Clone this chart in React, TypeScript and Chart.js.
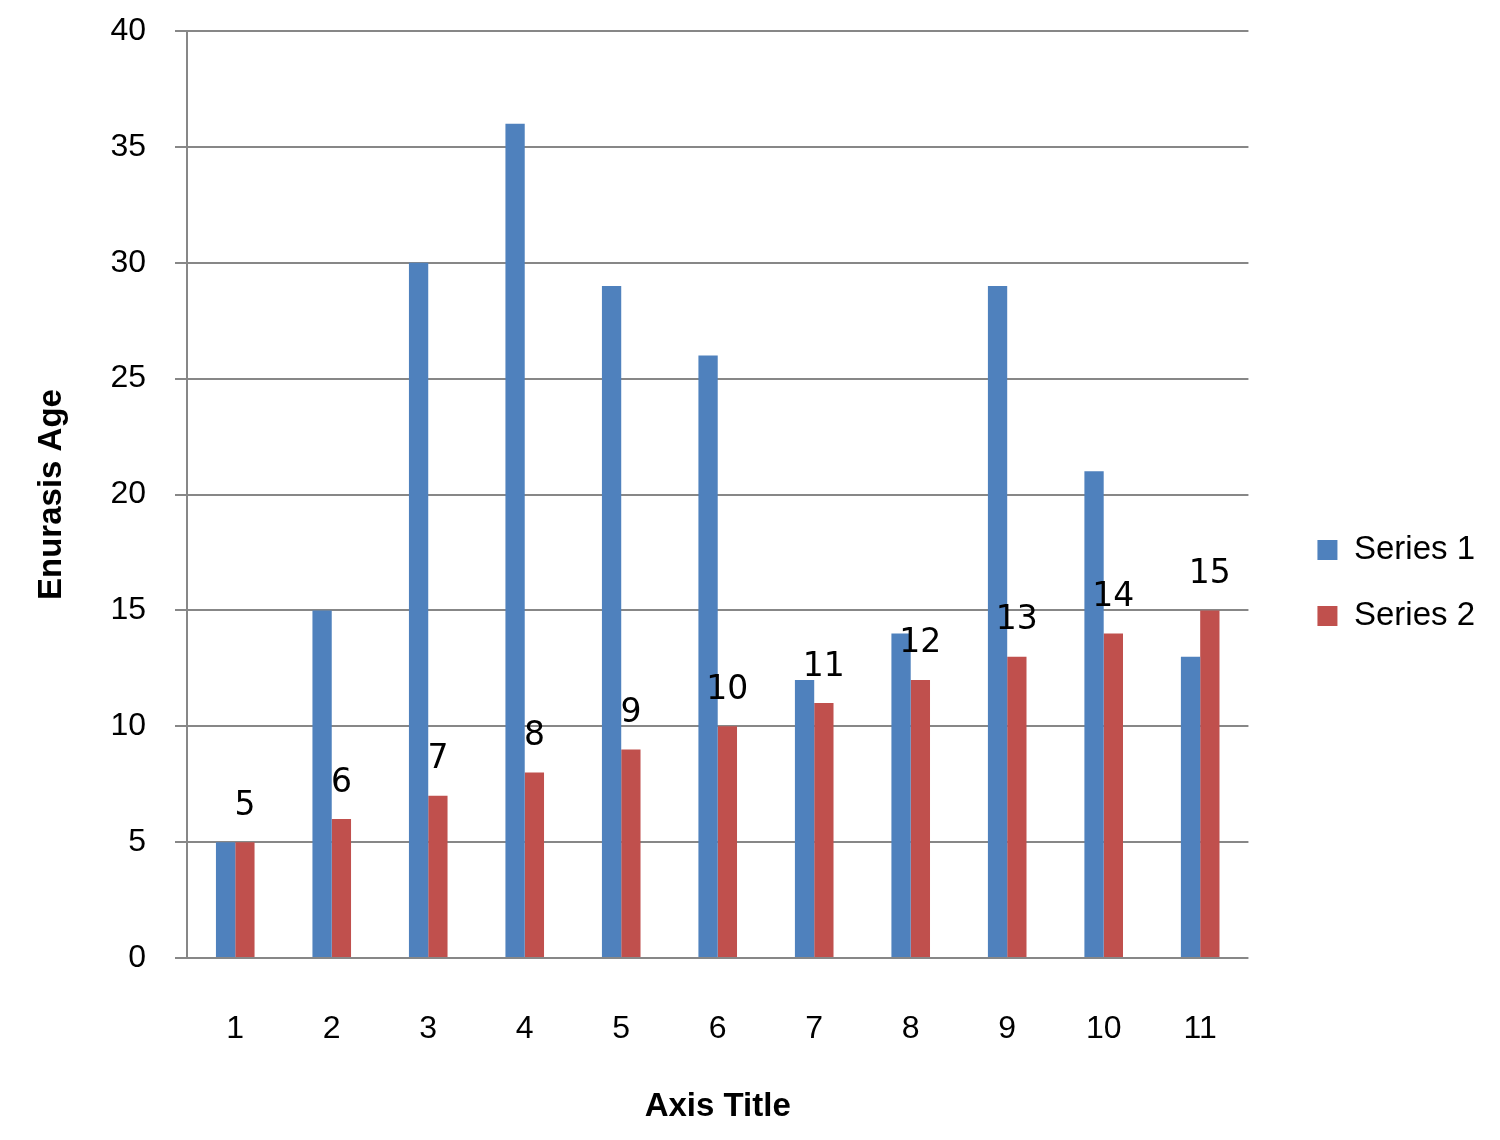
import { useEffect, useRef } from 'react'
import { Chart, registerables } from 'chart.js'

Chart.register(...registerables);

const categories = ['1', '2', '3', '4', '5', '6', '7', '8', '9', '10', '11'];
const series1 = [5, 15, 30, 36, 29, 26, 12, 14, 29, 21, 13];
const series2 = [5, 6, 7, 8, 9, 10, 11, 12, 13, 14, 15];

const GRID = '#878787';
const SANS = "'Liberation Sans', Arial, sans-serif";

// numbers over the red bars, drawn from the bar elements
const valueLabels = {
  id: 'valueLabels',
  afterDatasetsDraw(chart: Chart) {
    const meta = chart.getDatasetMeta(1);
    const ctx = chart.ctx;
    ctx.save();
    ctx.font = "33px 'DejaVu Sans', Verdana, sans-serif";
    ctx.fillStyle = '#000';
    ctx.textAlign = 'center';
    ctx.textBaseline = 'middle';
    meta.data.forEach((el: any, i) => {
      ctx.fillText(String(series2[i]), el.x, el.y - 36);
    });
    ctx.restore();
  },
};

export default function App() {
  const canvasRef = useRef<HTMLCanvasElement>(null);
  const chartRef = useRef<Chart | null>(null);

  useEffect(() => {
    if (!canvasRef.current) return;
    chartRef.current?.destroy();
    chartRef.current = new Chart(canvasRef.current, {
      type: 'bar',
      data: {
        labels: categories,
        datasets: [
          { label: 'Series 1', data: series1, backgroundColor: '#4F81BD', borderWidth: 0 },
          { label: 'Series 2', data: series2, backgroundColor: '#C0504D', borderWidth: 0 },
        ],
      },
      options: {
        responsive: false,
        animation: false,
        devicePixelRatio: 1,
        layout: { padding: { top: 31, right: 15, bottom: 5, left: 0 } },
        datasets: { bar: { categoryPercentage: 0.4, barPercentage: 1 } },
        plugins: {
          tooltip: { enabled: false },
          legend: {
            position: 'right',
            labels: {
              boxWidth: 20,
              boxHeight: 20,
              padding: 33,
              color: '#000',
              font: { family: SANS, size: 33 },
            },
          },
        },
        scales: {
          x: {
            grid: { display: false, drawTicks: false },
            border: { display: false },
            ticks: { color: '#000', padding: 52, font: { family: SANS, size: 32 } },
            title: {
              display: true,
              text: 'Axis Title',
              color: '#000',
              padding: { top: 0, bottom: 8 },
              font: { family: SANS, size: 33, weight: 'bold' },
            },
            afterFit: (s: any) => { s.height = 177; },
          },
          y: {
            min: 0,
            max: 40,
            ticks: { stepSize: 5, color: '#000', padding: 29, font: { family: SANS, size: 32 } },
            grid: { color: GRID, lineWidth: 2, tickLength: 12 },
            border: { display: true, color: GRID, width: 2 },
            title: {
              display: true,
              text: 'Enurasis Age',
              color: '#000',
              padding: { top: 32, bottom: 0 },
              font: { family: SANS, size: 33, weight: 'bold' },
            },
            afterFit: (s: any) => {
              s.width = 187;
              s.paddingTop = 0;
            },
          },
          // empty axis that only keeps the gap between plot and legend
          gap: {
            type: 'linear',
            position: 'right',
            display: true,
            grid: { display: false, drawTicks: false },
            border: { display: false },
            ticks: { display: false },
            afterFit: (s: any) => { s.width = 36; },
          },
        },
      },
      plugins: [valueLabels],
    });
    return () => {
      chartRef.current?.destroy();
      chartRef.current = null;
    };
  }, []);

  return (
    <div style={{ position: 'absolute', left: 0, top: 0, width: 1500, height: 1140, background: '#fff' }}>
      <canvas ref={canvasRef} width={1500} height={1140} style={{ display: 'block' }} />
    </div>
  );
}
